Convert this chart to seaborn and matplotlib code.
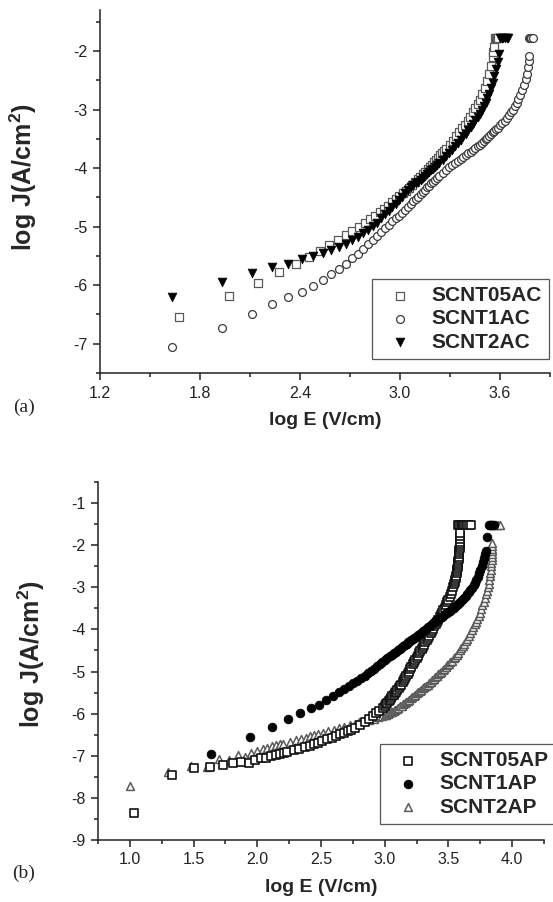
import matplotlib
matplotlib.use("Agg")
import matplotlib.pyplot as plt
import seaborn as sns
from matplotlib.ticker import MultipleLocator, FormatStrFormatter

# ---------------- data: panel (a) ----------------
a_labels = ["SCNT05AC", "SCNT1AC", "SCNT2AC"]

a_x_05 = [1.674, 1.975, 2.151, 2.276, 2.373, 2.452, 2.519, 2.577, 2.628, 2.674,
          2.715, 2.753, 2.788, 2.820, 2.850, 2.878, 2.904, 2.929, 2.953, 2.975,
          2.996, 3.016, 3.036, 3.054, 3.072, 3.089, 3.105, 3.121, 3.136, 3.151,
          3.165, 3.179, 3.193, 3.205, 3.218, 3.230, 3.242, 3.254, 3.265, 3.276,
          3.297, 3.317, 3.337, 3.355, 3.373, 3.390, 3.406, 3.422, 3.437, 3.452,
          3.466, 3.480, 3.494, 3.507, 3.519, 3.531, 3.543, 3.555,
          3.560, 3.566, 3.571, 3.577, 3.582, 3.588]
a_y_05 = [-6.54, -6.18, -5.96, -5.78, -5.63, -5.52, -5.41, -5.31, -5.22, -5.14,
          -5.07, -5.00, -4.93, -4.87, -4.81, -4.75, -4.70, -4.64, -4.58, -4.53,
          -4.48, -4.43, -4.39, -4.34, -4.29, -4.24, -4.19, -4.15, -4.10, -4.06,
          -4.02, -3.98, -3.94, -3.90, -3.86, -3.82, -3.78, -3.74, -3.71, -3.67,
          -3.60, -3.53, -3.46, -3.39, -3.32, -3.26, -3.19, -3.12, -3.05, -2.98,
          -2.91, -2.84, -2.74, -2.63, -2.52, -2.40, -2.25, -2.10,
          -2.02, -1.93, -1.77, -1.77, -1.77, -1.77]

a_x_1 = [1.632, 1.933, 2.109, 2.234, 2.331, 2.410, 2.477, 2.535, 2.586, 2.632,
         2.673, 2.711, 2.746, 2.778, 2.808, 2.836, 2.862, 2.887, 2.911, 2.933,
         2.954, 2.974, 2.994, 3.012, 3.030, 3.047, 3.063, 3.079, 3.094, 3.109,
         3.123, 3.137, 3.151, 3.163, 3.176, 3.188, 3.200, 3.212, 3.223, 3.234,
         3.255, 3.275, 3.295, 3.313, 3.331, 3.348, 3.364, 3.380, 3.395, 3.410,
         3.424, 3.438, 3.452, 3.465, 3.477, 3.489, 3.501, 3.513, 3.524, 3.535,
         3.546, 3.556, 3.566, 3.576, 3.586,
         3.600, 3.614, 3.628, 3.641, 3.653, 3.665, 3.677, 3.689, 3.700, 3.711,
         3.722, 3.732, 3.743, 3.753, 3.759, 3.766, 3.772, 3.775,
         3.772, 3.780, 3.788, 3.795]
a_y_1 = [-7.05, -6.73, -6.50, -6.33, -6.21, -6.11, -6.01, -5.91, -5.81, -5.72,
         -5.63, -5.54, -5.46, -5.38, -5.30, -5.23, -5.16, -5.09, -5.03, -4.97,
         -4.91, -4.86, -4.81, -4.76, -4.71, -4.66, -4.62, -4.57, -4.53, -4.49,
         -4.45, -4.41, -4.37, -4.33, -4.30, -4.26, -4.23, -4.20, -4.17, -4.14,
         -4.09, -4.04, -3.99, -3.95, -3.91, -3.88, -3.85, -3.81, -3.78, -3.75,
         -3.72, -3.69, -3.66, -3.63, -3.60, -3.57, -3.54, -3.51, -3.48, -3.45,
         -3.42, -3.39, -3.36, -3.34, -3.31,
         -3.27, -3.23, -3.19, -3.15, -3.10, -3.05, -3.00, -2.94, -2.88, -2.82,
         -2.75, -2.67, -2.58, -2.48, -2.39, -2.28, -2.17, -2.08,
         -1.78, -1.78, -1.78, -1.78]

a_x_2 = [1.632, 1.933, 2.109, 2.234, 2.331, 2.410, 2.477, 2.535, 2.586, 2.632,
         2.673, 2.711, 2.746, 2.778, 2.808, 2.836, 2.862, 2.887, 2.911, 2.933,
         2.954, 2.974, 2.994, 3.012, 3.030, 3.047, 3.063, 3.079, 3.094, 3.109,
         3.123, 3.137, 3.151, 3.163, 3.176, 3.188, 3.200, 3.212, 3.223, 3.234,
         3.255, 3.275, 3.295, 3.313, 3.331, 3.348, 3.364, 3.380, 3.395, 3.410,
         3.424, 3.438, 3.452, 3.465, 3.477, 3.489, 3.501, 3.513, 3.524, 3.535,
         3.546, 3.556, 3.566, 3.576, 3.586, 3.596,
         3.600, 3.610, 3.620, 3.630, 3.640, 3.650]
a_y_2 = [-6.21, -5.94, -5.79, -5.69, -5.63, -5.56, -5.50, -5.45, -5.40, -5.34,
         -5.29, -5.23, -5.17, -5.11, -5.05, -4.99, -4.93, -4.86, -4.79, -4.73,
         -4.67, -4.61, -4.55, -4.49, -4.43, -4.38, -4.33, -4.29, -4.26, -4.23,
         -4.20, -4.17, -4.13, -4.10, -4.07, -4.04, -4.01, -3.98, -3.95, -3.92,
         -3.86, -3.80, -3.74, -3.69, -3.63, -3.57, -3.52, -3.46, -3.41, -3.35,
         -3.30, -3.24, -3.18, -3.12, -3.07, -3.01, -2.94, -2.88, -2.81, -2.73,
         -2.64, -2.54, -2.43, -2.31, -2.19, -2.06,
         -1.77, -1.77, -1.77, -1.77, -1.77, -1.77]

# ---------------- data: panel (b) ----------------
b_labels = ["SCNT05AP", "SCNT1AP", "SCNT2AP"]

b_x_05 = [1.030, 1.331, 1.507, 1.632, 1.729, 1.808, 1.875, 1.933, 1.984, 2.030,
          2.071, 2.109, 2.144, 2.176, 2.206, 2.234, 2.285, 2.331, 2.372, 2.410,
          2.445, 2.477, 2.507, 2.549, 2.586, 2.621, 2.653, 2.683, 2.711, 2.738,
          2.770, 2.808, 2.843, 2.875, 2.905, 2.933, 2.959, 2.984,
          3.000, 3.010, 3.020, 3.030, 3.040, 3.050, 3.060, 3.070, 3.080, 3.090,
          3.100, 3.110, 3.120, 3.130, 3.140, 3.150, 3.160, 3.170, 3.180, 3.190,
          3.200, 3.210, 3.220, 3.230, 3.240, 3.250, 3.260, 3.270, 3.280, 3.290,
          3.300, 3.310, 3.320, 3.330, 3.340, 3.350, 3.360, 3.370, 3.380, 3.390,
          3.400, 3.410, 3.420, 3.430, 3.440, 3.450, 3.460, 3.470, 3.480, 3.490,
          3.500, 3.510, 3.520, 3.530, 3.538, 3.545, 3.550, 3.555, 3.558, 3.561,
          3.565, 3.568, 3.571, 3.573, 3.575, 3.576, 3.578, 3.580, 3.582, 3.583,
          3.584, 3.585, 3.587, 3.588, 3.589, 3.590, 3.591, 3.592, 3.594,
          3.575, 3.585, 3.595, 3.605, 3.615, 3.625, 3.635, 3.645, 3.660, 3.680]
b_y_05 = [-8.36, -7.46, -7.29, -7.27, -7.22, -7.18, -7.15, -7.17, -7.10, -7.06,
          -7.06, -7.01, -6.98, -6.95, -6.93, -6.90, -6.87, -6.84, -6.80, -6.77,
          -6.73, -6.70, -6.66, -6.61, -6.57, -6.53, -6.49, -6.45, -6.42, -6.39,
          -6.34, -6.28, -6.20, -6.12, -6.05, -5.99, -5.93, -5.87,
          -5.82, -5.78, -5.75, -5.71, -5.67, -5.63, -5.59, -5.55, -5.52, -5.48,
          -5.44, -5.40, -5.35, -5.31, -5.26, -5.21, -5.15, -5.10, -5.05, -5.00,
          -4.94, -4.89, -4.83, -4.78, -4.73, -4.68, -4.62, -4.57, -4.52, -4.47,
          -4.41, -4.36, -4.31, -4.26, -4.20, -4.15, -4.09, -4.03, -3.98, -3.93,
          -3.88, -3.82, -3.77, -3.71, -3.66, -3.60, -3.54, -3.48, -3.42, -3.36,
          -3.30, -3.23, -3.15, -3.08, -3.00, -2.93, -2.87, -2.82, -2.77, -2.72,
          -2.67, -2.62, -2.57, -2.52, -2.47, -2.42, -2.37, -2.32, -2.27, -2.22,
          -2.17, -2.12, -2.07, -2.02, -1.97, -1.93, -1.86, -1.79, -1.72,
          -1.52, -1.52, -1.52, -1.52, -1.52, -1.52, -1.52, -1.52, -1.52, -1.52]

b_x_1 = [1.640, 1.941, 2.117, 2.242, 2.339, 2.418, 2.485, 2.543, 2.594, 2.640,
         2.681, 2.719, 2.754, 2.786, 2.816, 2.844, 2.870, 2.895, 2.919, 2.941,
         2.962, 2.982, 3.002, 3.020, 3.038, 3.055, 3.071, 3.087, 3.102, 3.117,
         3.131, 3.145, 3.159, 3.171, 3.184, 3.196, 3.208, 3.220, 3.231, 3.242,
         3.263, 3.283, 3.303, 3.321, 3.339, 3.356, 3.372, 3.388, 3.403, 3.418,
         3.432, 3.446, 3.460, 3.473, 3.485, 3.497, 3.509, 3.521, 3.532, 3.543,
         3.554, 3.564, 3.574, 3.584, 3.594, 3.608, 3.622, 3.636, 3.649, 3.661,
         3.673, 3.685, 3.697, 3.708, 3.719, 3.730, 3.740, 3.751, 3.761, 3.770,
         3.780, 3.789, 3.798, 3.804,
         3.815, 3.825, 3.835, 3.845, 3.855]
b_y_1 = [-6.96, -6.56, -6.32, -6.13, -5.99, -5.87, -5.79, -5.67, -5.58, -5.49,
         -5.42, -5.35, -5.28, -5.22, -5.16, -5.10, -5.04, -4.99, -4.94, -4.88,
         -4.83, -4.78, -4.73, -4.69, -4.64, -4.60, -4.56, -4.53, -4.49, -4.46,
         -4.43, -4.40, -4.37, -4.34, -4.31, -4.28, -4.26, -4.23, -4.20, -4.18,
         -4.13, -4.08, -4.04, -3.99, -3.95, -3.91, -3.87, -3.83, -3.80, -3.76,
         -3.73, -3.70, -3.67, -3.64, -3.61, -3.58, -3.56, -3.53, -3.50, -3.48,
         -3.45, -3.42, -3.40, -3.37, -3.34, -3.30, -3.25, -3.21, -3.16, -3.11,
         -3.06, -3.01, -2.95, -2.89, -2.82, -2.75, -2.67, -2.58, -2.49, -2.40,
         -2.31, -2.22, -2.14, -1.81,
         -1.52, -1.52, -1.52, -1.52, -1.52]

b_x_2 = [1.000, 1.301, 1.477, 1.602, 1.699, 1.778, 1.845, 1.903, 1.954, 2.000,
         2.041, 2.079, 2.114, 2.146, 2.176, 2.204, 2.255, 2.301, 2.342, 2.380,
         2.415, 2.447, 2.477, 2.519, 2.556, 2.602, 2.643, 2.681, 2.724, 2.763,
         2.799, 2.839, 2.875, 2.914, 2.949, 2.982,
         3.000, 3.012, 3.024, 3.036, 3.048, 3.060, 3.072, 3.084, 3.096, 3.108,
         3.120, 3.132, 3.144, 3.156, 3.168, 3.180, 3.192, 3.204, 3.216, 3.228,
         3.240, 3.252, 3.264, 3.276, 3.288, 3.300, 3.312, 3.324, 3.336, 3.348,
         3.360, 3.372, 3.384, 3.396, 3.408, 3.420, 3.432, 3.444, 3.456, 3.468,
         3.480, 3.492, 3.504, 3.516, 3.528, 3.540, 3.552, 3.564, 3.576, 3.588,
         3.600, 3.612, 3.624, 3.636, 3.648, 3.660, 3.672, 3.684, 3.696, 3.706,
         3.716, 3.726, 3.736, 3.746, 3.756, 3.766, 3.776, 3.785, 3.794, 3.802,
         3.809, 3.815, 3.821, 3.826, 3.830, 3.833, 3.836, 3.838, 3.840, 3.842,
         3.843, 3.844, 3.844, 3.845, 3.845,
         3.875, 3.890, 3.905]
b_y_2 = [-7.72, -7.38, -7.24, -7.27, -7.07, -7.10, -6.99, -7.02, -6.94, -6.89,
         -6.85, -6.82, -6.78, -6.75, -6.73, -6.71, -6.67, -6.63, -6.60, -6.57,
         -6.54, -6.51, -6.49, -6.45, -6.42, -6.38, -6.35, -6.32, -6.28, -6.25,
         -6.21, -6.18, -6.15, -6.12, -6.09, -6.06,
         -6.04, -6.03, -6.01, -5.99, -5.97, -5.95, -5.93, -5.91, -5.88, -5.86,
         -5.83, -5.81, -5.78, -5.75, -5.72, -5.70, -5.67, -5.64, -5.61, -5.58,
         -5.55, -5.52, -5.49, -5.46, -5.43, -5.40, -5.37, -5.34, -5.31, -5.28,
         -5.24, -5.21, -5.18, -5.14, -5.11, -5.07, -5.03, -5.00, -4.96, -4.93,
         -4.89, -4.85, -4.82, -4.78, -4.74, -4.69, -4.65, -4.60, -4.55, -4.50,
         -4.45, -4.40, -4.34, -4.28, -4.22, -4.15, -4.09, -4.02, -3.95, -3.88,
         -3.82, -3.75, -3.68, -3.60, -3.52, -3.43, -3.35, -3.26, -3.17, -3.08,
         -3.00, -2.92, -2.83, -2.74, -2.66, -2.58, -2.50, -2.43, -2.35, -2.28,
         -2.21, -2.14, -2.08, -2.01, -1.94,
         -1.52, -1.52, -1.52]

# ---------------- styling ----------------
sns.set_theme(style="ticks")
plt.rcParams["font.family"] = ["Liberation Sans", "DejaVu Sans"]
plt.rcParams["mathtext.fontset"] = "custom"
plt.rcParams["mathtext.rm"] = "Liberation Sans:bold"
plt.rcParams["mathtext.bf"] = "Liberation Sans:bold"
plt.rcParams["mathtext.it"] = "Liberation Sans:bold"
plt.rcParams["axes.unicode_minus"] = False

fig = plt.figure(figsize=(5.53, 9.02), dpi=100)
ax1 = fig.add_axes([100 / 553, 1 - 373 / 902, 450 / 553, 363 / 902])
ax2 = fig.add_axes([98 / 553, 1 - 840 / 902, 446 / 553, 358 / 902])

# panel (a)
sns.scatterplot(x=a_x_05, y=a_y_05, ax=ax1, marker="s", s=26, color="white",
                edgecolor="#5a5a5a", linewidth=0.9, label=a_labels[0], zorder=3)
sns.scatterplot(x=a_x_1, y=a_y_1, ax=ax1, marker="o", s=32, color="white",
                edgecolor="#3c3c3c", linewidth=0.9, label=a_labels[1], zorder=3)
sns.scatterplot(x=a_x_2, y=a_y_2, ax=ax1, marker="v", s=40, color="black",
                edgecolor="black", linewidth=0.5, label=a_labels[2], zorder=4)

# panel (b)
sns.scatterplot(x=b_x_2, y=b_y_2, ax=ax2, marker="^", s=32, color="white",
                edgecolor="#5c5c5c", linewidth=1.1, label=b_labels[2], zorder=3)
sns.scatterplot(x=b_x_05, y=b_y_05, ax=ax2, marker="s", s=28, color="white",
                edgecolor="#111111", linewidth=1.2, label=b_labels[0], zorder=3)
sns.scatterplot(x=b_x_1, y=b_y_1, ax=ax2, marker="o", s=40, color="black",
                edgecolor="black", linewidth=0.5, label=b_labels[1], zorder=4)

ax1.set_xlim(1.2, 3.9)
ax1.set_ylim(-7.5, -1.3)
ax1.xaxis.set_major_locator(MultipleLocator(0.6))
ax1.xaxis.set_minor_locator(MultipleLocator(0.3))
ax1.yaxis.set_major_locator(MultipleLocator(1))
ax1.yaxis.set_minor_locator(MultipleLocator(0.5))
ax1.xaxis.set_major_formatter(FormatStrFormatter("%.1f"))
ax1.yaxis.set_major_formatter(FormatStrFormatter("%d"))

ax2.set_xlim(0.75, 4.25)
ax2.set_ylim(-9, -0.5)
ax2.xaxis.set_major_locator(MultipleLocator(0.5))
ax2.xaxis.set_minor_locator(MultipleLocator(0.25))
ax2.yaxis.set_major_locator(MultipleLocator(1))
ax2.yaxis.set_minor_locator(MultipleLocator(0.5))
ax2.xaxis.set_major_formatter(FormatStrFormatter("%.1f"))
ax2.yaxis.set_major_formatter(FormatStrFormatter("%d"))

for ax in (ax1, ax2):
    sns.despine(ax=ax)
    for sp in ("left", "bottom"):
        ax.spines[sp].set_linewidth(1.1)
        ax.spines[sp].set_color("#222222")
    ax.tick_params(which="major", direction="out", length=5, width=1.1,
                   labelsize=11.5, color="#222222", labelcolor="#222222", pad=4)
    ax.tick_params(which="minor", direction="out", length=3, width=1.1,
                   color="#222222")
    ax.set_xlabel("log E (V/cm)", fontsize=14, fontweight="bold", labelpad=8)
    ax.set_ylabel(r"log J(A/cm$^{2}$)", fontsize=18, fontweight="bold")

ax1.yaxis.set_label_coords(-0.135, 0.54)
ax2.yaxis.set_label_coords(-0.115, 0.52)

leg_kw = dict(frameon=True, fancybox=False, framealpha=1, edgecolor="#555555",
              prop={"weight": "bold", "size": 15}, borderpad=0.35,
              labelspacing=0.2, handletextpad=0.5, borderaxespad=0,
              handlelength=2.0, loc="lower right")
h1, l1 = ax1.get_legend_handles_labels()
leg1 = ax1.legend(h1, l1, bbox_to_anchor=(0.998, 0.039), **leg_kw)
h2, l2 = ax2.get_legend_handles_labels()
order = [l2.index(n) for n in b_labels]
leg2 = ax2.legend([h2[i] for i in order], [l2[i] for i in order],
                  bbox_to_anchor=(1.027, 0.045), **leg_kw)
for lg in (leg1, leg2):
    lg.get_frame().set_linewidth(0.9)

fig.text(13 / 553, 1 - 407 / 902, "(a)", family=["Liberation Serif"],
         fontsize=14, va="center", ha="left")
fig.text(12 / 553, 1 - 873 / 902, "(b)", family=["Liberation Serif"],
         fontsize=14, va="center", ha="left")

fig.savefig("out.png", dpi=100)
